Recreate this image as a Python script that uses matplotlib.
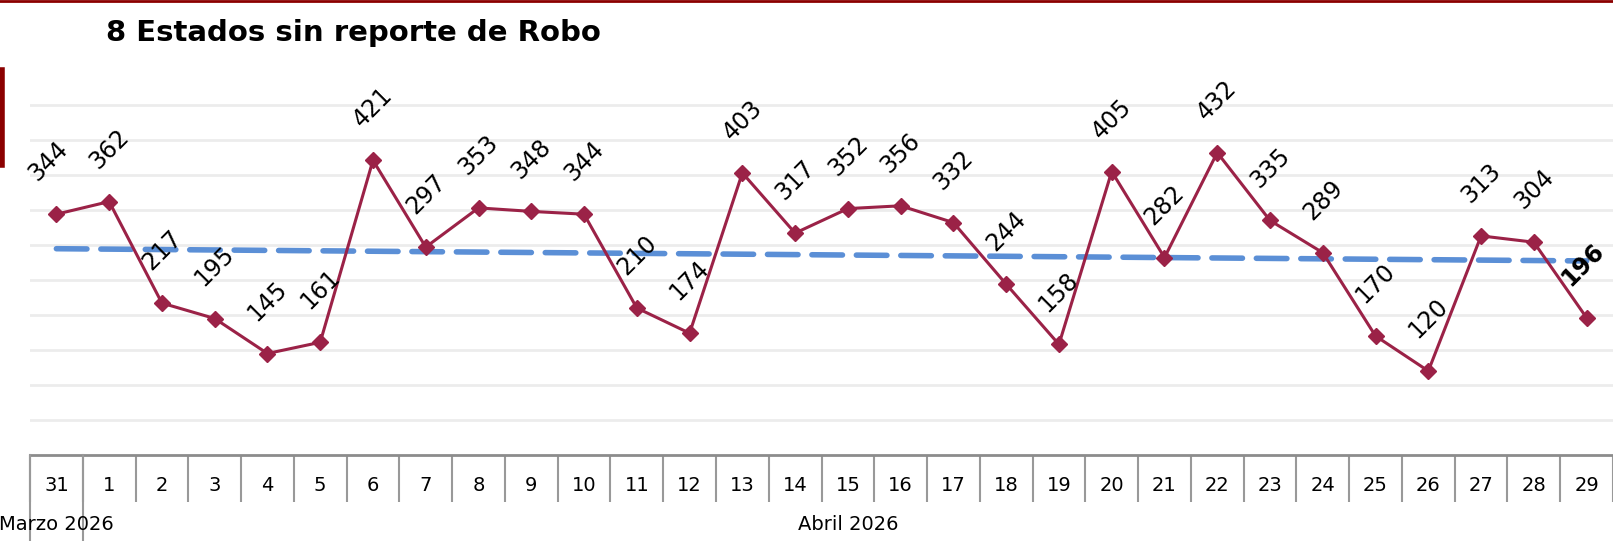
import numpy as np
import matplotlib
matplotlib.use("Agg")
import matplotlib.pyplot as plt
from matplotlib.lines import Line2D
from matplotlib.transforms import blended_transform_factory

plt.rcParams['font.family'] = ['DejaVu Sans']

dias = ["31", "1", "2", "3", "4", "5", "6", "7", "8", "9", "10", "11", "12", "13", "14",
        "15", "16", "17", "18", "19", "20", "21", "22", "23", "24", "25", "26", "27", "28", "29"]
robos = [344, 362, 217, 195, 145, 161, 421, 297, 353, 348, 344, 210, 174, 403, 317,
         352, 356, 332, 244, 158, 405, 282, 432, 335, 289, 170, 120, 313, 304, 196]
meses = ["Marzo 2026", "Abril 2026"]
titulo = "8 Estados sin reporte de Robo"

color_linea = "#9B2247"
color_tend = "#5B8FD6"

W, H = 1613, 541
fig = plt.figure(figsize=(W / 100, H / 100), dpi=100)

# area de la grafica (en pixeles: x 30..1613, y0 en 455)
ax_left, ax_right = 30 / W, 1.0
ax_bottom = (H - 455) / H
ymax = 520
ax_top = (H - (455 - ymax * 0.7)) / H
ax = fig.add_axes([ax_left, ax_bottom, ax_right - ax_left, ax_top - ax_bottom])

x = np.arange(len(robos))
ax.set_xlim(-0.5, len(robos) - 0.5)
ax.set_ylim(0, ymax)

for g in range(50, 501, 50):
    ax.axhline(g, color="#ececec", lw=2, zorder=0)

# linea de tendencia
m, b = np.polyfit(x, robos, 1)
ax.plot([x[0], x[-1]], [m * x[0] + b, m * x[-1] + b], color=color_tend, lw=4,
        dashes=(5.5, 2.5), zorder=2, dash_capstyle='round')

ax.plot(x, robos, color=color_linea, lw=2.2, marker="D", markersize=8, zorder=3)

for i, v in enumerate(robos):
    bold = i == len(robos) - 1
    dx = -6 if i == 0 else (-3 if bold else 0)
    ax.annotate(str(v), (x[i], v), xytext=(dx, 38), textcoords="offset points",
                ha="center", va="center", rotation=45, fontsize=17,
                fontweight="bold" if bold else "normal", color="black",
                annotation_clip=False, zorder=4)

for s in ["top", "right", "left"]:
    ax.spines[s].set_visible(False)
ax.spines["bottom"].set_color("#8c8c8c")
ax.spines["bottom"].set_linewidth(2)
ax.set_yticks([])

ax.set_xticks(x)
ax.set_xticklabels(dias, fontsize=14)
ax.tick_params(axis="x", which="major", length=0, pad=15)
ax.set_xticks(np.arange(-0.5, len(robos), 1), minor=True)
ax.tick_params(axis="x", which="minor", length=34, width=1.5, color="#999999")

# separadores de mes
tr = blended_transform_factory(ax.transData, fig.transFigure)
for xs in [-0.5, 0.5]:
    fig.add_artist(Line2D([xs, xs], [ax_bottom, 0], transform=tr, color="#999999", lw=1.5))
fig.text(ax_left + (ax_right - ax_left) * (0.5 / 30), (H - 525) / H, meses[0],
         ha="center", va="center", fontsize=14)
fig.text(ax_left + (ax_right - ax_left) * (15.5 / 30), (H - 525) / H, meses[1],
         ha="center", va="center", fontsize=14)

# titulo y adornos
fig.text(106 / W, (H - 33) / H, titulo, ha="left", va="center", fontsize=21, fontweight="bold")
fig.add_artist(Line2D([0, 1], [1 - 1 / H, 1 - 1 / H], transform=fig.transFigure,
                      color="#8B0000", lw=2))
fig.add_artist(Line2D([2 / W, 2 / W], [(H - 70) / H, (H - 165) / H], transform=fig.transFigure,
                      color="#8B0000", lw=4))

fig.savefig("out.png", dpi=100)
